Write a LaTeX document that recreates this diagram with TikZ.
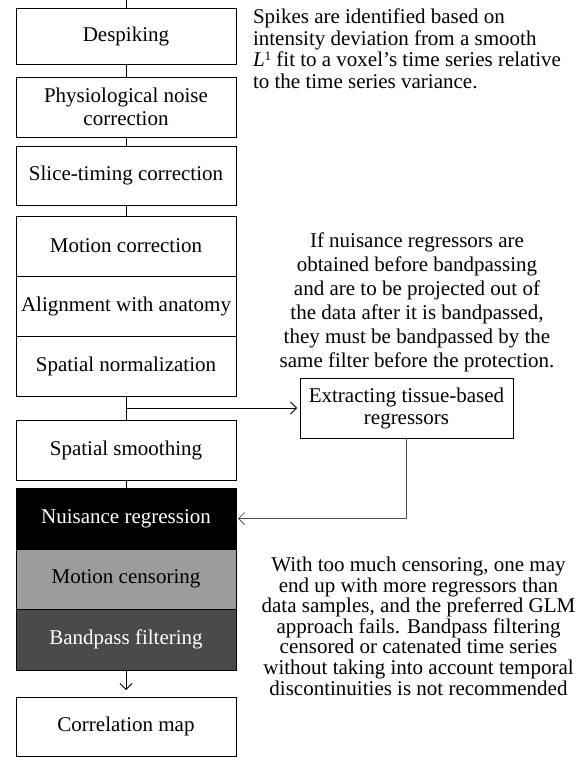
\documentclass[tikz,border=0pt]{standalone}
\usepackage{fontspec}
\setmainfont{Liberation Serif}
\usetikzlibrary{arrows.meta}
\definecolor{censgray}{HTML}{9C9C9C}
\definecolor{banddark}{HTML}{4A4A4A}
\definecolor{retgray}{HTML}{505050}
\tikzset{
  stepbox/.style={draw=black, line width=0.9pt, minimum width=220pt, inner sep=0pt, outer sep=0pt, align=center,
    font=\fontsize{21}{23}\selectfont},
  link/.style={line width=0.8pt, draw=black},
  arr/.style={link, -{Straight Barb[length=6pt,width=12pt,line width=0.8pt]}},
  note/.style={inner sep=0pt, outer sep=0pt}
}
\begin{document}
\begin{tikzpicture}[x=1pt,y=-1pt]
\useasboundingbox (0,0) rectangle (586,757);
% pipeline boxes
\node[stepbox, minimum height=56pt] (desp) at (126,36) {Despiking};
\node[stepbox, minimum height=60pt] (phys) at (126,107) {Physiological noise\\correction};
\node[stepbox, minimum height=59pt] (slice) at (126,175.5) {Slice-timing correction};
\node[stepbox, minimum height=60pt] (moco) at (126,246) {Motion correction};
\node[stepbox, minimum height=60pt] (align) at (126,306) {Alignment with anatomy};
\node[stepbox, minimum height=60pt] (norm) at (126,366) {Spatial normalization};
\node[stepbox, minimum height=60pt] (smooth) at (126,450) {Spatial smoothing};
\node[stepbox, minimum height=61pt, fill=black, text=white] (nuis) at (126,518.5) {Nuisance regression};
\node[stepbox, minimum height=60pt, fill=censgray] (cens) at (126,579) {Motion censoring};
\node[stepbox, minimum height=61pt, fill=banddark, text=white] (band) at (126,639.5) {Bandpass filtering};
\node[stepbox, minimum height=59pt] (corr) at (126,726.5) {Correlation map};
\node[stepbox, minimum width=213pt, minimum height=60pt, font=\fontsize{21}{22}\selectfont] (ext) at (406.5,408) {Extracting tissue-based\\regressors};
% connectors
\coordinate (top) at (126,0);
\coordinate (br) at (126,408);
\draw[link] (top) -- (desp.north);
\draw[link] (desp.south) -- (phys.north);
\draw[link] (phys.south) -- (slice.north);
\draw[link] (slice.south) -- (moco.north);
\draw[link] (norm.south) -- (smooth.north);
\draw[link] (smooth.south) -- (nuis.north);
\draw[arr, shorten >=3pt] (br) -- (ext.west);
\draw[arr, draw=retgray, shorten >=2pt] (ext.south) -- (ext.south |- nuis.east) -- (nuis.east);
\draw[arr, shorten >=7pt] (band.south) -- (corr.north);
% notes
\node[note, anchor=north west, align=left, font=\fontsize{21}{21.8}\selectfont] (n1) at (253,8.5)
  {Spikes are identified based on\\intensity deviation from a smooth\\\textit{L}\raisebox{6pt}{\fontsize{13}{13}\selectfont 1} fit to a voxel’s time series relative\\to the time series variance.};
\node[note, anchor=north, align=center, font=\fontsize{21}{24}\selectfont] (n2) at (417,233)
  {If nuisance regressors are\\obtained before bandpassing\\and are to be projected out of\\the data after it is bandpassed,\\they must be bandpassed by the\\same filter before the protection.};
\node[note, anchor=north, align=center, font=\fontsize{21}{20.6}\selectfont] (n3) at (418.5,557)
  {With too much censoring, one may\\end up with more regressors than\\data samples, and the preferred GLM\\approach fails. Bandpass filtering\\censored or catenated time series\\without taking into account temporal\\discontinuities is not recommended};
\end{tikzpicture}
\end{document}
